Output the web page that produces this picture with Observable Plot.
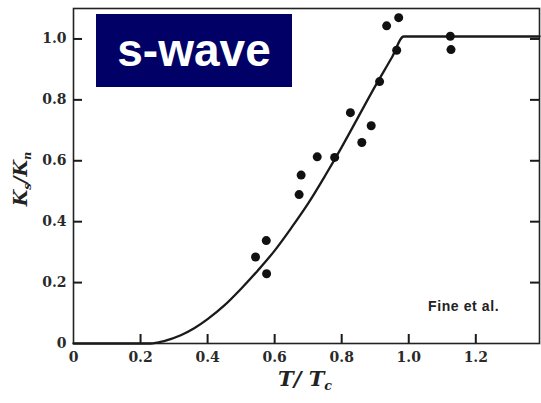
<!DOCTYPE html>
<html><head><meta charset="utf-8">
<script src="https://cdn.jsdelivr.net/npm/d3@7"></script>
<script src="https://cdn.jsdelivr.net/npm/@observablehq/plot@0.6"></script>
<style>
body{margin:0;background:#fff;}
#wrap{position:relative;width:541px;height:403px;overflow:hidden;background:#fff;}
#badge{position:absolute;left:96px;top:14px;width:196px;height:73px;background:#000066;color:#fff;
  font-family:"Liberation Sans",Arial,sans-serif;font-weight:bold;font-size:46px;line-height:73px;text-align:center;}
#cite{position:absolute;left:428px;top:298px;font-family:"Liberation Sans",Arial,sans-serif;font-weight:bold;font-size:14px;color:#222;letter-spacing:0.6px;}
#xlab{position:absolute;left:270px;top:366px;width:70px;text-align:center;font-family:"DejaVu Serif",serif;font-style:italic;font-weight:bold;font-size:21px;color:#222;}
#ylab{position:absolute;left:-20px;top:168px;width:80px;text-align:center;transform:rotate(-90deg);font-family:"DejaVu Serif",serif;font-style:italic;font-weight:bold;font-size:19px;color:#222;}
sub{font-size:60%;vertical-align:-0.35em;line-height:0;}
</style></head><body>
<div id="wrap"></div>
<script>
// measured points (T/Tc, Ks/Kn)
const pointT = [0.543, 0.575, 0.576, 0.673, 0.679, 0.727, 0.779, 0.826, 0.860, 0.888, 0.913, 0.934, 0.970, 0.964, 1.124, 1.126];
const pointK = [0.284, 0.338, 0.229, 0.489, 0.553, 0.613, 0.611, 0.758, 0.660, 0.715, 0.860, 1.043, 1.070, 0.963, 1.009, 0.965];
// theory curve
const curveT = [0, 0.23, 0.27, 0.32, 0.36, 0.40, 0.45, 0.50, 0.55, 0.60, 0.65, 0.70, 0.75, 0.80, 0.85, 0.90, 0.95, 0.985, 1.39];
const curveK = [0, 0, 0.008, 0.027, 0.05, 0.08, 0.125, 0.18, 0.24, 0.305, 0.38, 0.46, 0.55, 0.645, 0.745, 0.845, 0.94, 1.008, 1.008];
const xTicks = [0, 0.2, 0.4, 0.6, 0.8, 1.0, 1.2];
const xTickLabels = ["0", "0.2", "0.4", "0.6", "0.8", "1.0", "1.2"];
const yTicks = [0, 0.2, 0.4, 0.6, 0.8, 1.0];
const yTickLabels = ["0", "0.2", "0.4", "0.6", "0.8", "1.0"];

const points = pointT.map((t, i) => ({t, k: pointK[i]}));
const curve = curveT.map((t, i) => ({t, k: curveK[i]}));
const W = 541, H = 403, mL = 73, mR = 2, mT = 8, mB = 60, tick = 9;
const plotW = W - mL - mR, plotH = H - mT - mB;
const tickFont = {fontFamily: "DejaVu Serif", fontWeight: "bold", fontSize: 14, fill: "#2a2a2a"};
const tickStroke = {stroke: "#1a1a1a", strokeWidth: 2};

const plot = Plot.plot({
  width: W, height: H,
  marginLeft: mL, marginRight: mR, marginTop: mT, marginBottom: mB,
  style: {background: "#fff", color: "#222"},
  x: {domain: [0, 1.39]},
  y: {domain: [0, 1.1]},
  marks: [
    Plot.frame({stroke: "#222", strokeWidth: 1.6}),
    Plot.axisX(xTicks, {anchor: "bottom", tickSize: 0, tickPadding: 9, tickFormat: (d, i) => xTickLabels[i], label: null, ...tickFont}),
    Plot.axisY(yTicks, {anchor: "left", tickSize: 0, tickPadding: 7, tickFormat: (d, i) => yTickLabels[i], label: null, ...tickFont}),
    Plot.line(curve, {x: "t", y: "k", stroke: "#1a1a1a", strokeWidth: 2.3, curve: "monotone-x"}),
    Plot.dot(points, {x: "t", y: "k", r: 4.5, fill: "#111", stroke: "none"}),
    Plot.tickX(xTicks.slice(1), {x: d => d, insetTop: plotH - tick, ...tickStroke}),
    Plot.tickY(yTicks.slice(1), {y: d => d, insetRight: plotW - tick, ...tickStroke}),
    Plot.tickY(yTicks.slice(1), {y: d => d, insetLeft: plotW - tick, ...tickStroke})
  ]
});
const wrap = document.getElementById("wrap");
wrap.appendChild(plot);
wrap.insertAdjacentHTML("beforeend",
  '<div id="badge">s-wave</div>' +
  '<div id="cite">Fine et al.</div>' +
  '<div id="xlab">T/ T<sub>c</sub></div>' +
  '<div id="ylab">K<sub>s</sub>/K<sub>n</sub></div>');
</script>
</body></html>
